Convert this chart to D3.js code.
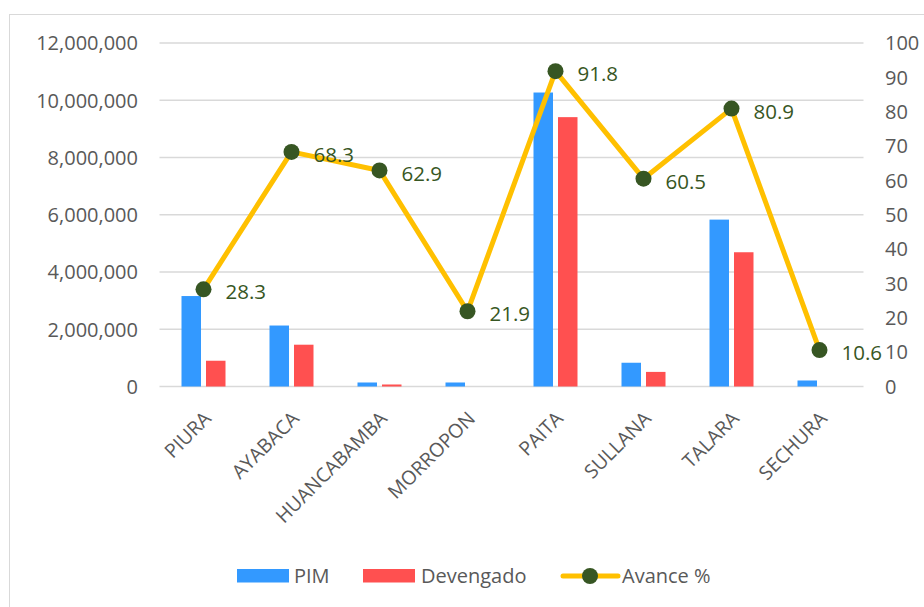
<!DOCTYPE html>
<html>
<head>
<meta charset="utf-8">
<script src="https://cdn.jsdelivr.net/npm/d3@7"></script>
<style>
  html, body { margin: 0; padding: 0; background: #fff; }
  svg { display: block; font-family: "Open Sans", sans-serif; }
</style>
</head>
<body>
<svg id="chart" width="924" height="607"></svg>
<script>
const categories = ["PIURA", "AYABACA", "HUANCABAMBA", "MORROPON", "PAITA", "SULLANA", "TALARA", "SECHURA"];
const pim = [3160000, 2130000, 140000, 140000, 10270000, 830000, 5830000, 210000];
const devengado = [900000, 1460000, 70000, 0, 9410000, 510000, 4690000, 0];
const avance = [28.3, 68.3, 62.9, 21.9, 91.8, 60.5, 80.9, 10.6];
const leftTicks = [0, 2000000, 4000000, 6000000, 8000000, 10000000, 12000000];
const rightTicks = [0, 10, 20, 30, 40, 50, 60, 70, 80, 90, 100];
const seriesNames = ["PIM", "Devengado", "Avance %"];

(function () {
const colors = { pim: "#3399FF", dev: "#FF5050", line: "#FFC000", marker: "#375623", text: "#595959", grid: "#D9D9D9" };

const svg = d3.select("#chart");
const pLeft = 159.5, pRight = 863.5, pTop = 43, pBottom = 386.5;

// chart border
svg.append("rect").attr("x", 9.5).attr("y", 14.5).attr("width", 1000).attr("height", 1000)
  .attr("fill", "none").attr("stroke", colors.grid).attr("stroke-width", 1);

const x = d3.scaleBand().domain(categories).range([pLeft, pRight]);
const yL = d3.scaleLinear().domain([0, 12000000]).range([pBottom, pTop]);
const yR = d3.scaleLinear().domain([0, 100]).range([pBottom, pTop]);

// gridlines
svg.append("g").selectAll("line").data(leftTicks).join("line")
  .attr("x1", pLeft).attr("x2", pRight)
  .attr("y1", d => yL(d)).attr("y2", d => yL(d))
  .attr("stroke", colors.grid).attr("stroke-width", 1.3);

// left axis
const fmt = d3.format(",");
const axL = d3.axisLeft(yL).tickValues(leftTicks).tickFormat(fmt).tickSize(0).tickPadding(0);
const gL = svg.append("g").attr("transform", `translate(138,0)`).call(axL);
gL.select(".domain").remove();
gL.selectAll("text").attr("fill", colors.text).style("font-size", "20px").attr("dy", "0.34em").attr("font-family", "Open Sans");

// right axis
const axR = d3.axisRight(yR).tickValues(rightTicks).tickSize(0).tickPadding(0);
const gR = svg.append("g").attr("transform", `translate(885,0)`).call(axR);
gR.select(".domain").remove();
gR.selectAll("text").attr("fill", colors.text).style("font-size", "20px").attr("dy", "0.34em").attr("font-family", "Open Sans");

// bars
const barW = 19.5, gap = 5;
const bars = svg.append("g");
bars.selectAll(".pim").data(categories).join("rect")
  .attr("x", d => x(d) + x.bandwidth() / 2 - gap / 2 - barW)
  .attr("width", barW)
  .attr("y", (d, i) => yL(pim[i]))
  .attr("height", (d, i) => yL(0) - yL(pim[i]))
  .attr("fill", colors.pim);
bars.selectAll(".dev").data(categories).join("rect")
  .attr("x", d => x(d) + x.bandwidth() / 2 + gap / 2)
  .attr("width", barW)
  .attr("y", (d, i) => yL(devengado[i]))
  .attr("height", (d, i) => yL(0) - yL(devengado[i]))
  .attr("fill", colors.dev);

// line
const cx = (d, i) => x(categories[i]) + x.bandwidth() / 2;
const line = d3.line().x((d, i) => cx(d, i)).y(d => yR(d));
svg.append("path").datum(avance).attr("d", line)
  .attr("fill", "none").attr("stroke", colors.line).attr("stroke-width", 5).attr("stroke-linejoin", "round");
svg.append("g").selectAll("circle").data(avance).join("circle")
  .attr("cx", cx).attr("cy", d => yR(d)).attr("r", 8).attr("fill", colors.marker);
svg.append("g").selectAll("text").data(avance).join("text")
  .attr("x", (d, i) => cx(d, i) + 22).attr("y", d => yR(d) + 3)
  .attr("dy", "0.35em")
  .attr("fill", colors.marker).style("font-size", "20.5px")
  .text(d => d.toFixed(1));

// category labels
svg.append("g").selectAll("text").data(categories).join("text")
  .attr("transform", d => `translate(${x(d) + x.bandwidth() / 2 - 1},${410}) rotate(-45)`)
  .attr("text-anchor", "end").attr("dy", "0.71em")
  .attr("fill", colors.text).style("font-size", "19.5px")
  .text(d => d);

// legend
const lg = svg.append("g");
const ly = 576;
lg.append("rect").attr("x", 237).attr("y", ly - 7).attr("width", 52).attr("height", 13.5).attr("fill", colors.pim);
lg.append("text").attr("x", 294).attr("y", ly).attr("dy", "0.35em").attr("fill", colors.text).style("font-size", "20px").text(seriesNames[0]);
lg.append("rect").attr("x", 363).attr("y", ly - 7).attr("width", 52).attr("height", 13.5).attr("fill", colors.dev);
lg.append("text").attr("x", 421).attr("y", ly).attr("dy", "0.35em").attr("fill", colors.text).style("font-size", "20px").text(seriesNames[1]);
lg.append("line").attr("x1", 563).attr("x2", 618).attr("y1", ly).attr("y2", ly)
  .attr("stroke", colors.line).attr("stroke-width", 5).attr("stroke-linecap", "round");
lg.append("circle").attr("cx", 590).attr("cy", ly).attr("r", 8).attr("fill", colors.marker);
lg.append("text").attr("x", 622).attr("y", ly).attr("dy", "0.35em").attr("fill", colors.text).style("font-size", "20px").text(seriesNames[2]);
})();
</script>
</body>
</html>
